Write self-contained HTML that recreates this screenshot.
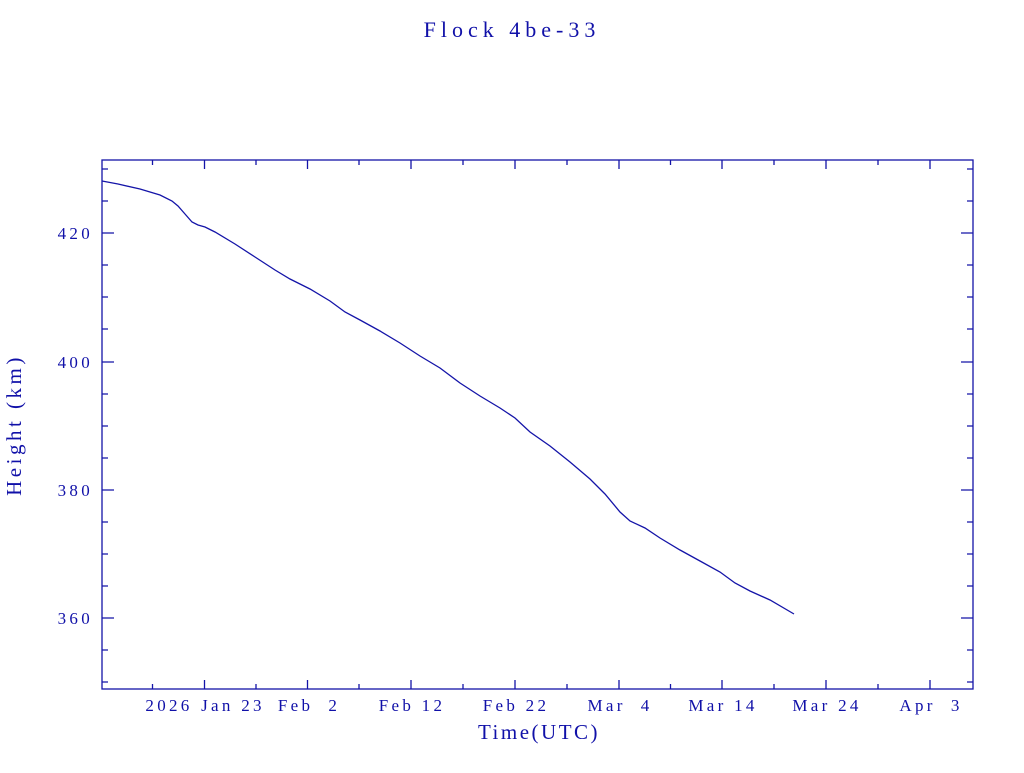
<!DOCTYPE html>
<html><head><meta charset="utf-8"><style>
body{margin:0;background:#fff;width:1024px;height:768px;overflow:hidden}
svg text{font-family:"Liberation Serif",serif;fill:#1010a8;font-size:17px;white-space:pre}
.t{letter-spacing:3.3px}
</style></head><body>
<svg width="1024" height="768" viewBox="0 0 1024 768">
<g stroke="#1414a8" stroke-width="1.3" fill="none">
<rect x="102" y="160" width="871" height="529"/>
<path d="M102,169h6M102,201h6M102,233h12M102,265h6M102,297h6M102,329h6M102,362h12M102,394h6M102,426h6M102,458h6M102,490h12M102,522h6M102,554h6M102,586h6M102,618h12M102,650h6M102,682h6
M973,169h-6M973,201h-6M973,233h-12M973,265h-6M973,297h-6M973,329h-6M973,362h-12M973,394h-6M973,426h-6M973,458h-6M973,490h-12M973,522h-6M973,554h-6M973,586h-6M973,618h-12M973,650h-6M973,682h-6"/>
<path d="M152.5,689v-5M204.5,689v-9M256,689v-5M307.5,689v-9M359,689v-5M411,689v-9M463,689v-5M515,689v-9M567,689v-5M619,689v-9M670.5,689v-5M722,689v-9M774,689v-5M826,689v-9M878,689v-5M930,689v-9
M152.5,160v5M204.5,160v9M256,160v5M307.5,160v9M359,160v5M411,160v9M463,160v5M515,160v9M567,160v5M619,160v9M670.5,160v5M722,160v9M774,160v5M826,160v9M878,160v5M930,160v9"/>
<polyline points="102,181 118,184 140,189 160,195 172,201 178,206 185,214 192,222 198,225 205,227 215,232 235,244 255,257 275,270 290,279 310,289 330,301 345,312 360,320 380,331 400,343 420,356 440,368 460,383 480,396 500,408 515,418 530,432 550,446 570,462 590,479 605,494 620,512 630,521 645,528 660,538 680,550 700,561 720,572 735,583 750,591 770,600 794,614"/>
</g>
<text x="512" y="37" text-anchor="middle" style="font-size:22px;letter-spacing:5px">Flock 4be-33</text>
<g text-anchor="end" class="t"><text x="93" y="239">420</text><text x="93" y="368">400</text><text x="93" y="496">380</text><text x="93" y="624">360</text></g>
<g text-anchor="middle" class="t">
<text x="169" y="711">2026</text><text x="233" y="711">Jan 23</text><text x="309" y="711">Feb  2</text>
<text x="412" y="711">Feb 12</text><text x="516" y="711">Feb 22</text><text x="620" y="711">Mar  4</text>
<text x="723" y="711">Mar 14</text><text x="827" y="711">Mar 24</text><text x="931" y="711">Apr  3</text>
<text x="539" y="739" style="font-size:21px;letter-spacing:2.5px">Time(UTC)</text>
<text transform="translate(21,425) rotate(-90)" style="font-size:21px;letter-spacing:3.5px">Height (km)</text>
</g>
</svg>
</body></html>
